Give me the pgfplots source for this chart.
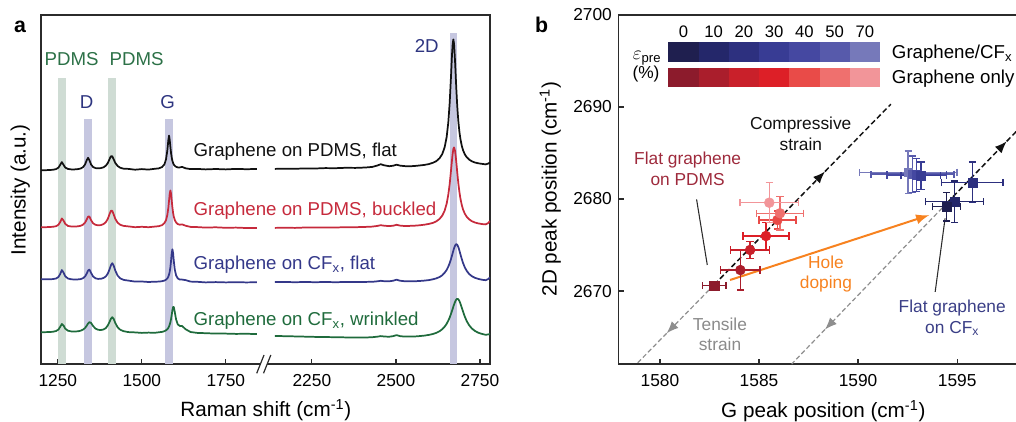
\documentclass[border=0pt]{standalone}
\usepackage{fontspec}
\setmainfont{Liberation Sans}
\usepackage{pgfplots}
\pgfplotsset{compat=1.18}
\usepackage{pgfplotstable}
\usetikzlibrary{arrows.meta}

\definecolor{axisc}{HTML}{2B2B2B}
\definecolor{sK}{HTML}{111111}
\definecolor{sR}{HTML}{C62A3C}
\definecolor{sB}{HTML}{343889}
\definecolor{sG}{HTML}{1F6B3C}
\definecolor{lblG}{HTML}{2C7147}
\definecolor{lblB}{HTML}{2E3580}
\definecolor{bandG}{HTML}{CFDCD4}
\definecolor{bandB}{HTML}{C6C7E0}
\definecolor{b0}{HTML}{1F1F4F}
\definecolor{b1}{HTML}{24276A}
\definecolor{b2}{HTML}{2D307F}
\definecolor{b3}{HTML}{383C94}
\definecolor{b4}{HTML}{4548A1}
\definecolor{b5}{HTML}{575AAB}
\definecolor{b6}{HTML}{7679BA}
\definecolor{r0}{HTML}{8C1B2C}
\definecolor{r1}{HTML}{AA1E2C}
\definecolor{r2}{HTML}{C9202A}
\definecolor{r3}{HTML}{DD1F27}
\definecolor{r4}{HTML}{E94B48}
\definecolor{r5}{HTML}{EF706E}
\definecolor{r6}{HTML}{F29599}
\definecolor{orng}{HTML}{F7821F}
\definecolor{grayln}{HTML}{8E8E8E}
\definecolor{txtR}{HTML}{9E2A3C}
\definecolor{txtB}{HTML}{3A3E86}
\definecolor{txtGr}{HTML}{8A8A8A}

\newcommand{\fsize}[2]{\fontsize{#1}{#2}\selectfont}

% Raman spectra, left segment (x in cm^-1; intensities in arbitrary offset units)
\pgfplotstableread{
x k r b g
1200 193.7 136.7 84.7 31.8
1220 193.9 136.9 84.7 31.9
1235 194.2 137.2 84.9 32.2
1245 194.9 137.8 85.5 33.0
1252 196.4 139.3 87.1 34.5
1257 199.1 141.9 89.9 37.1
1262 201.9 145.5 93.9 40.0
1267 199.2 143.5 91.5 38.5
1272 196.5 140.2 87.8 35.4
1280 195.1 138.1 85.5 33.3
1290 194.6 137.5 84.7 32.6
1300 194.6 137.4 84.5 32.5
1310 194.9 137.7 84.6 32.7
1318 195.5 138.2 84.9 33.3
1325 196.8 139.3 85.8 34.4
1331 199.5 141.3 87.5 36.0
1336 203.8 144.5 90.4 38.3
1340 206.2 147.4 93.4 40.5
1344 203.8 147.4 94.4 41.9
1349 199.5 143.8 91.1 41.0
1355 197.0 140.7 87.5 38.0
1362 195.9 139.2 85.7 35.4
1370 195.7 138.7 85.1 34.2
1378 195.9 138.9 85.2 34.0
1386 196.7 139.9 86.0 34.5
1393 198.3 141.9 87.6 36.0
1399 201.1 145.3 90.5 38.7
1404 204.9 149.9 94.7 42.1
1408 207.7 153.2 98.7 45.3
1412 207.7 153.2 100.8 46.8
1416 204.9 149.8 98.6 45.2
1421 201.1 145.2 93.5 41.1
1428 198.0 141.3 88.4 36.7
1436 196.2 139.2 85.6 34.2
1446 195.3 138.1 84.1 32.8
1460 195.1 137.6 83.4 31.9
1480 194.3 136.8 82.4 31.6
1500 194.9 137.2 82.5 31.1
1520 194.4 136.8 82.0 31.4
1538 195.2 137.4 82.3 31.2
1550 195.6 137.8 82.4 31.7
1560 196.9 138.8 82.8 32.1
1567 199.5 140.8 83.4 32.8
1572 204.6 143.9 84.3 33.7
1576 213.9 149.2 85.6 34.8
1579 224.1 156.5 87.4 36.2
1581 228.4 163.3 89.4 37.6
1583 224.1 170.3 92.3 39.4
1585 217.2 173.5 96.8 41.8
1587 210.9 170.3 103.3 45.1
1589 206.3 163.3 110.9 49.3
1591 203.1 156.5 114.7 53.8
1593 201.0 151.2 111.1 57.0
1595 199.5 147.5 103.5 57.1
1598 198.2 144.1 94.5 52.1
1602 197.2 141.5 88.6 44.4
1607 196.6 139.9 85.6 39.6
1613 196.6 139.3 84.4 38.1
1620 197.1 139.6 84.4 38.0
1630 195.7 138.3 83.9 34.8
1645 194.9 137.1 82.4 32.0
1665 195.1 136.9 82.2 31.1
1690 194.6 136.4 81.6 30.8
1720 195.0 136.7 81.9 30.4
1750 194.6 136.2 81.6 30.4
1780 195.1 136.4 81.8 30.1
1810 194.8 136.0 81.6 30.2
1842 195.0 136.1 81.7 30.0
}\leftspec

% Raman spectra, right segment
\pgfplotstableread{
x k r b g
2140 195.1 136.1 81.9 28.1
2170 195.3 136.3 82.0 27.8
2200 195.2 136.1 81.8 27.6
2230 195.6 136.5 82.0 27.35
2260 195.5 136.4 81.8 27.1
2290 195.9 136.6 82.0 26.95
2320 195.8 136.5 81.8 26.8
2350 196.2 136.8 82.0 26.6
2380 196.1 136.8 81.9 26.5
2410 196.5 137.1 82.1 26.5
2430 197.1 137.4 82.2 26.8
2445 198.5 138.1 82.7 27.35
2455 199.8 138.8 83.2 27.9
2465 198.7 138.3 82.8 27.5
2480 197.8 137.9 82.7 27.25
2492 198.3 138.3 83.3 27.9
2502 199.3 139.2 84.3 28.9
2512 198.4 138.4 83.3 27.9
2525 197.9 138.0 82.8 27.4
2540 197.7 138.1 82.7 27.4
2555 198.0 138.3 82.75 27.5
2570 198.5 138.7 83.0 27.9
2585 199.1 139.3 83.4 28.4
2598 199.9 140.1 83.9 29.1
2610 201.2 141.1 84.7 30.0
2620 202.8 142.6 85.6 31.1
2630 205.8 145.1 87.0 32.8
2638 210.0 148.4 88.8 34.8
2645 216.7 153.3 91.2 37.3
2651 226.9 160.3 94.1 40.2
2656 241.8 169.5 97.4 43.4
2660 261.0 179.9 100.8 46.5
2664 287.9 193.5 105.0 50.2
2667 309.7 204.3 108.5 53.2
2669 320.4 210.6 111.0 55.3
2671 324.5 215.0 113.4 57.4
2673 320.4 216.6 115.7 59.4
2676 302.7 213.1 118.3 62.1
2678 288.0 207.6 119.4 63.6
2680 273.7 200.8 119.8 64.6
2682 261.1 193.5 119.4 65.1
2684 250.6 186.5 118.3 65.1
2686 242.0 180.0 116.7 64.6
2689 232.1 171.9 113.4 62.9
2692 225.0 165.4 109.7 60.4
2696 218.2 159.0 105.0 56.4
2700 213.6 154.3 100.8 52.2
2705 209.7 150.3 96.6 47.4
2711 206.7 147.1 93.0 42.7
2718 204.4 144.6 90.0 38.7
2726 202.7 142.8 87.8 35.5
2735 201.5 141.5 86.2 33.1
2745 200.7 140.6 85.1 31.3
2757 200.1 139.9 84.2 30.0
2767 199.6 139.6 83.8 29.2
2775 200.5 141.0 85.0 29.6
2780 201.5 143.0 86.5 30.0
}\rightspec

\pgfplotsset{
  pt/.style={only marks, color=#1, mark options={fill=#1, draw=#1, solid},
    /pgfplots/error bars/x dir=both, /pgfplots/error bars/x explicit,
    /pgfplots/error bars/y dir=both, /pgfplots/error bars/y explicit,
    /pgfplots/error bars/error bar style={line width=1.1pt, color=#1},
    /pgfplots/error bars/error mark options={rotate=90, line width=1.1pt, mark size=2.7pt, color=#1}},
}

\begin{document}
\begin{tikzpicture}[x=0.75pt,y=0.75pt]
\useasboundingbox (0,0) rectangle (1016,421);

% ---------------- panel a ----------------
\begin{axis}[
  at={(30.75pt,42.75pt)}, anchor=south west, scale only axis,
  width=336.75pt, height=261.75pt,
  xmin=1200, xmax=2536, ymin=0, ymax=349,
  axis line style={line width=0.9pt, color=axisc},
  ytick=\empty,
  xtick={1250,1500,1750,2006,2256,2506},
  xticklabels={1250,1500,1750,2250,2500,2750},
  xtick pos=bottom, tick align=inside,
  major tick length=4pt,
  tick style={line width=0.9pt, color=axisc},
  xticklabel style={font=\fsize{13}{15}, yshift=-4.4pt},
]
\fill[bandG] (1250,0) rectangle (1275,285.7);
\fill[bandG] (1398,0) rectangle (1422,285.7);
\fill[bandB] (1328,0) rectangle (1352,244.7);
\fill[bandB] (1570,0) rectangle (1593,244.7);
\fill[bandB] (2416,0) rectangle (2438,330.7);

\addplot[sK, line width=1.3pt, line join=round] table[x=x, y=k] {\leftspec};
\addplot[sR, line width=1.3pt, line join=round] table[x=x, y=r] {\leftspec};
\addplot[sB, line width=1.3pt, line join=round] table[x=x, y=b] {\leftspec};
\addplot[sG, line width=1.3pt, line join=round] table[x=x, y=g] {\leftspec};
\addplot[sK, line width=1.3pt, line join=round] table[x expr=\thisrow{x}-244, y=k] {\rightspec};
\addplot[sR, line width=1.3pt, line join=round] table[x expr=\thisrow{x}-244, y=r] {\rightspec};
\addplot[sB, line width=1.3pt, line join=round] table[x expr=\thisrow{x}-244, y=b] {\rightspec};
\addplot[sG, line width=1.3pt, line join=round] table[x expr=\thisrow{x}-244, y=g] {\rightspec};
\end{axis}

% axis break on panel a
\fill[white] (260.2,55.3) rectangle (267.4,58.7);
\draw[axisc, line width=0.9pt] (256.7,47.7) -- (264,66);
\draw[axisc, line width=0.9pt] (263.5,47.7) -- (270.8,66);

% panel a texts
\node[font=\fsize{16}{18}\bfseries, anchor=base] at (20,388.7) {a};
\node[font=\fsize{15.5}{18}, rotate=90, anchor=base] at (25.7,231) {Intensity (a.u.)};
\node[font=\fsize{15.5}{18}, anchor=base] at (265.8,4.3) {Raman shift (cm\textsuperscript{-1})};
\node[font=\fsize{14}{16}, text=lblG, anchor=base] at (71.7,355.3) {PDMS};
\node[font=\fsize{14}{16}, text=lblG, anchor=base] at (136.7,355.3) {PDMS};
\node[font=\fsize{14}{16}, text=lblB, anchor=base] at (86.7,312.7) {D};
\node[font=\fsize{14}{16}, text=lblB, anchor=base] at (167.7,312.7) {G};
\node[font=\fsize{14}{16}, text=lblB, anchor=base] at (426.7,368.7) {2D};
\node[font=\fsize{14}{16}, text=sK, anchor=base west, inner sep=0pt] at (193.3,264.3) {Graphene on PDMS, flat};
\node[font=\fsize{14}{16}, text=sR, anchor=base west, inner sep=0pt] at (193.3,205) {Graphene on PDMS, buckled};
\node[font=\fsize{14}{16}, text=sB, anchor=base west, inner sep=0pt] at (193.3,151.7) {Graphene on CF\textsubscript{x}, flat};
\node[font=\fsize{14}{16}, text=sG, anchor=base west, inner sep=0pt] at (193.3,95) {Graphene on CF\textsubscript{x}, wrinkled};

% ---------------- panel b ----------------
\begin{axis}[
  at={(463.725pt,42.75pt)}, anchor=south west, scale only axis,
  width=301.7pt, height=261.75pt,
  xmin=1577.9, xmax=1598.2, ymin=2662.07, ymax=2700,
  axis line style={line width=0.9pt, color=axisc},
  xtick={1580,1585,1590,1595}, ytick={2670,2680,2690,2700},
  xtick pos=bottom, ytick pos=left, tick align=inside,
  major tick length=4pt,
  tick style={line width=0.9pt, color=axisc},
  /pgf/number format/assume math mode=true,
  /pgf/number format/1000 sep={},
  xticklabel style={font=\fsize{13}{15}, yshift=-4.4pt},
  yticklabel style={font=\fsize{13}{15}, xshift=-1.3pt},
]
% strain lines
\draw[grayln, line width=0.9pt, dash pattern=on 3.5pt off 2pt] (1580.34,2665.41) -- (1578.82,2662.07);
\draw[grayln, line width=0.9pt, dash pattern=on 3.5pt off 2pt, -{Latex[length=9pt,width=7pt]}] (1582.74,2670.69) -- (1580.34,2665.41);
\draw[sK, line width=1.1pt, dash pattern=on 4pt off 2.2pt, -{Latex[length=9pt,width=7pt]}] (1582.74,2670.69) -- (1588.33,2682.99);
\draw[sK, line width=1.1pt, dash pattern=on 4pt off 2.2pt] (1588.33,2682.99) -- (1591.65,2690.3);
\draw[grayln, line width=0.9pt, dash pattern=on 3.5pt off 2pt] (1588.33,2665.82) -- (1586.65,2662.07);
\draw[grayln, line width=0.9pt, dash pattern=on 3.5pt off 2pt, -{Latex[length=9pt,width=7pt]}] (1594.5,2679.6) -- (1588.33,2665.82);
\draw[sK, line width=1.1pt, dash pattern=on 4pt off 2.2pt, -{Latex[length=9pt,width=7pt]}] (1594.5,2679.6) -- (1597.5,2686.27);
\draw[sK, line width=1.1pt, dash pattern=on 4pt off 2.2pt] (1597.5,2686.27) -- (1598.1,2687.6);
% hole doping arrow
\draw[orng, line width=1.5pt, -{Latex[length=10pt,width=7.5pt]}] (1583.54,2671.2) -- (1593.6,2678.26);
% leader lines
\draw[axisc, line width=0.8pt] (1581.85,2679.96) -- (1582.39,2672.83);
\draw[axisc, line width=0.8pt] (1594.39,2677.9) -- (1593.89,2669.9);

% graphene only (red)
\addplot[pt=r0, mark=square*, mark size=3.5pt] coordinates {(1582.74,2670.6) +- (0.6,0.45)};
\addplot[pt=r1, mark=*, mark size=3.7pt] coordinates {(1584.06,2672.28) +- (1.0,2.17)};
\addplot[pt=r2, mark=*, mark size=3.7pt] coordinates {(1584.55,2674.46) +- (0.98,0.9)};
\addplot[pt=r3, mark=*, mark size=3.7pt] coordinates {(1585.35,2675.98) +- (1.16,1.45)};
\addplot[pt=r4, mark=*, mark size=3.7pt] coordinates {(1585.93,2677.72) +- (0.94,1.0)};
\addplot[pt=r5, mark=*, mark size=3.7pt] coordinates {(1586.06,2678.45) +- (1.18,1.8)};
\addplot[pt=r6, mark=*, mark size=3.7pt] coordinates {(1585.52,2679.6) +- (1.47,2.17)};
% graphene/CFx (blue)
\addplot[pt=b6, mark=square*, mark size=3.3pt] coordinates {(1592.53,2682.9) +- (2.45,2.3)};
\addplot[pt=b5, mark=square*, mark size=3.3pt] coordinates {(1592.75,2682.7) +- (2.1,2.0)};
\addplot[pt=b4, mark=square*, mark size=3.3pt] coordinates {(1592.95,2682.6) +- (1.5,1.8)};
\addplot[pt=b3, mark=square*, mark size=3.3pt] coordinates {(1593.17,2682.53) +- (1.0,1.5)};
\addplot[pt=b2, mark=square*, mark size=3.3pt] coordinates {(1595.77,2681.8) +- (1.55,2.2)};
\addplot[pt=b1, mark=square*, mark size=3.3pt] coordinates {(1594.87,2679.71) +- (1.47,2.26)};
\addplot[pt=b0, mark=square*, mark size=3.3pt] coordinates {(1594.46,2679.16) +- (0.7,1.54)};

% annotations
\node[font=\fsize{13}{15.5}, align=center, text=sK] at (1587.11,2687.07) {Compressive\\strain};
\node[font=\fsize{13}{15.5}, align=center, text=txtR] at (1581.4,2683.3) {Flat graphene\\on PDMS};
\node[font=\fsize{13}{15.5}, align=center, text=orng] at (1588.38,2671.85) {Hole\\doping};
\node[font=\fsize{13}{15.5}, align=center, text=txtGr] at (1583.03,2665.3) {Tensile\\strain};
\node[font=\fsize{13}{15.5}, align=center, text=txtB] at (1594.75,2667.1) {Flat graphene\\on CF\textsubscript{x}};
\end{axis}

% panel b texts
\node[font=\fsize{16}{18}\bfseries, anchor=base] at (541.7,388.7) {b};
\node[font=\fsize{15.5}{18}, rotate=90, anchor=base] at (556.7,232) {2D peak position (cm\textsuperscript{-1})};
\node[font=\fsize{15.5}{18}, anchor=base] at (823.3,4) {G peak position (cm\textsuperscript{-1})};

% strain colour key
\foreach \i/\c in {0/b0,1/b1,2/b2,3/b3,4/b4,5/b5,6/b6}
  \fill[\c] ({668.3+30.24*\i},359.3) rectangle ({668.3+30.24*(\i+1)},378.7);
\foreach \i/\c in {0/r0,1/r1,2/r2,3/r3,4/r4,5/r5,6/r6}
  \fill[\c] ({668.3+30.24*\i},333.7) rectangle ({668.3+30.24*(\i+1)},352.7);
\foreach \i/\t in {0/0,1/10,2/20,3/30,4/40,5/50,6/70}
  \node[font=\fsize{12.5}{15}, anchor=base] at ({683.4+30.24*\i},383.7) {\t};
\node[font=\fsize{14}{17}, anchor=base] at (647,361) {$\varepsilon$\textsubscript{pre}};
\node[font=\fsize{13}{15}, anchor=base] at (646,342) {(\%)};
\node[font=\fsize{14}{16}, anchor=base west, inner sep=0pt] at (891.7,362.7) {Graphene/CF\textsubscript{x}};
\node[font=\fsize{14}{16}, anchor=base west, inner sep=0pt] at (891.7,337) {Graphene only};
\end{tikzpicture}
\end{document}
